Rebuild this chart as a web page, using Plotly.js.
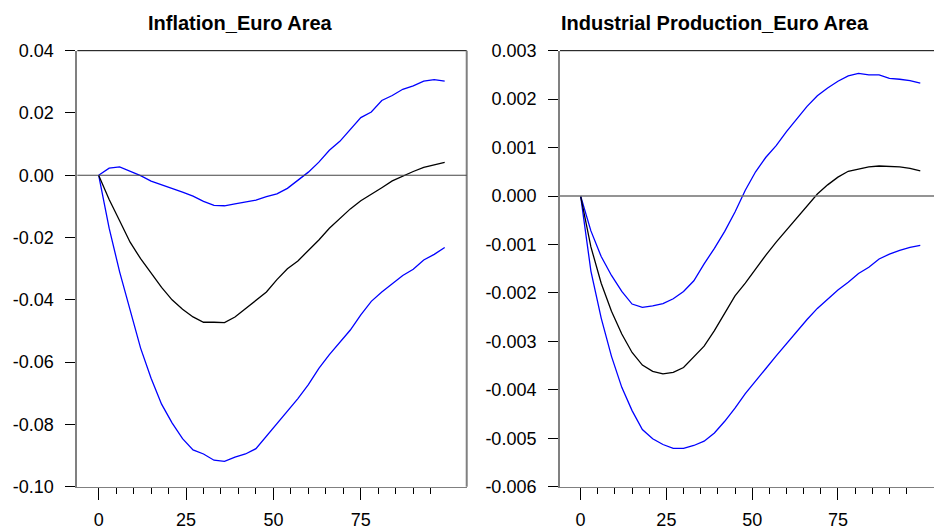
<!DOCTYPE html>
<html>
<head>
<meta charset="utf-8">
<script src="https://cdn.plot.ly/plotly-3.0.1.min.js"></script>
<style>html,body{margin:0;padding:0;background:#fff;}#chart{width:934px;height:529px;}</style>
</head>
<body>
<div id="chart"></div>
<script>
// Horizon (periods)
const periods = [0,3,6,9,12,15,18,21,24,27,30,33,36,39,42,45,48,51,54,57,60,63,66,69,72,75,78,81,84,87,90,93,96,99];

// Inflation_Euro Area
const inflUpper = [0,0.0023,0.0027,0.0013,-0.0001,-0.0019,-0.0030,-0.0041,-0.0054,-0.0067,-0.0084,-0.0097,-0.0098,-0.0092,-0.0087,-0.0080,-0.0069,-0.0060,-0.0042,-0.0015,0.0010,0.0042,0.0080,0.0109,0.0147,0.0185,0.0203,0.0240,0.0256,0.0276,0.0287,0.0302,0.0307,0.0302];
const inflMedian = [0,-0.0078,-0.0146,-0.0215,-0.0268,-0.0316,-0.0360,-0.0400,-0.0430,-0.0455,-0.0472,-0.0472,-0.0473,-0.0455,-0.0428,-0.0400,-0.0375,-0.0335,-0.0300,-0.0275,-0.0243,-0.0208,-0.0170,-0.0138,-0.0108,-0.0082,-0.0062,-0.0040,-0.0018,-0.0002,0.0012,0.0025,0.0034,0.0041];
const inflLower = [0,-0.0170,-0.0310,-0.0433,-0.0555,-0.0652,-0.0735,-0.0795,-0.0846,-0.0882,-0.0895,-0.0915,-0.0919,-0.0905,-0.0895,-0.0878,-0.0838,-0.0800,-0.0760,-0.0717,-0.0672,-0.0620,-0.0576,-0.0537,-0.0497,-0.0448,-0.0405,-0.0375,-0.0350,-0.0322,-0.0302,-0.0272,-0.0254,-0.0232];

// Industrial Production_Euro Area
const ipUpper = [0,-0.00072,-0.00125,-0.00164,-0.00197,-0.00223,-0.00230,-0.00227,-0.00222,-0.00212,-0.00197,-0.00175,-0.00140,-0.00108,-0.00073,-0.00033,0.00012,0.00050,0.00080,0.00104,0.00133,0.00160,0.00185,0.00207,0.00223,0.00237,0.00248,0.00253,0.00250,0.00250,0.00243,0.00241,0.00238,0.00233];
const ipMedian = [0,-0.00105,-0.00180,-0.00238,-0.00285,-0.00323,-0.00349,-0.00362,-0.00367,-0.00364,-0.00354,-0.00332,-0.00310,-0.00278,-0.00243,-0.00206,-0.00180,-0.00150,-0.00122,-0.00095,-0.00070,-0.00046,-0.00022,0.00004,0.00023,0.00039,0.00051,0.00056,0.00060,0.00062,0.00061,0.00060,0.00057,0.00052];
const ipLower = [0,-0.00155,-0.00252,-0.00331,-0.00395,-0.00443,-0.00482,-0.00501,-0.00513,-0.00521,-0.00521,-0.00515,-0.00506,-0.00489,-0.00465,-0.00438,-0.00408,-0.00381,-0.00356,-0.00330,-0.00305,-0.00278,-0.00255,-0.00232,-0.00213,-0.00194,-0.00178,-0.00160,-0.00147,-0.00130,-0.00120,-0.00112,-0.00106,-0.00102];

// Titles and ticks
const titles = ["Inflation_Euro Area", "Industrial Production_Euro Area"];
const xTickVals = [0,25,50,75];
const xTickText = ["0","25","50","75"];
const xMinorVals = [5,10,15,20,30,35,40,45,55,60,65,70,80,85,90,95];
const inflTickVals = [0.04,0.02,0,-0.02,-0.04,-0.06,-0.08,-0.10];
const inflTickText = ["0.04","0.02","0.00","-0.02","-0.04","-0.06","-0.08","-0.10"];
const ipTickVals = [0.003,0.002,0.001,0,-0.001,-0.002,-0.003,-0.004,-0.005,-0.006];
const ipTickText = ["0.003","0.002","0.001","0.000","-0.001","-0.002","-0.003","-0.004","-0.005","-0.006"];

const BLUE = "#0000ff";
const FONT = "Liberation Sans, Arial, sans-serif";

function tr(y, color, xa, ya){
  return {x: periods, y: y, type: "scatter", mode: "lines", xaxis: xa, yaxis: ya,
          line: {color: color, width: 1.3}, hoverinfo: "skip", showlegend: false};
}

const data = [
  tr(inflUpper, BLUE, "x", "y"), tr(inflLower, BLUE, "x", "y"), tr(inflMedian, "#000000", "x", "y"),
  tr(ipUpper, BLUE, "x2", "y2"), tr(ipLower, BLUE, "x2", "y2"), tr(ipMedian, "#000000", "x2", "y2")
];

function xax(domain, range){
  return {domain: domain, range: range, showgrid: false, zeroline: false, showline: true,
    linecolor: "#808080", linewidth: 1.5, ticks: "outside", ticklen: 12, tickwidth: 1, tickcolor: "#000",
    tickmode: "array", tickvals: xTickVals, ticktext: xTickText, ticklabelstandoff: 4,
    tickfont: {family: FONT, size: 18, color: "#000"},
    minor: {tickmode: "array", tickvals: xMinorVals, ticks: "outside", ticklen: 6, tickwidth: 1, tickcolor: "#000", showgrid: false},
    fixedrange: true};
}
function yax(domain, range, vals, text, anchor){
  return {domain: domain, range: range, anchor: anchor, showgrid: false, zeroline: false, showline: true,
    linecolor: "#808080", linewidth: 2, ticks: "outside", ticklen: 10, tickwidth: 1, tickcolor: "#000",
    tickmode: "array", tickvals: vals, ticktext: text, ticklabelstandoff: 8,
    tickfont: {family: FONT, size: 18, color: "#000"}, fixedrange: true};
}

const yDom = [0.0800, 0.9042];
const layout = {
  width: 934, height: 529, margin: {l: 0, r: 0, t: 0, b: 0},
  paper_bgcolor: "#fff", plot_bgcolor: "#fff", showlegend: false,
  xaxis: Object.assign(xax([0.0828, 0.4997], [-6.1, 105.3]), {anchor: "y"}),
  yaxis: yax(yDom, [-0.10, 0.04], inflTickVals, inflTickText, "x"),
  xaxis2: Object.assign(xax([0.5996, 1], [-6.0, 103.0]), {anchor: "y2"}),
  yaxis2: yax(yDom, [-0.006, 0.003], ipTickVals, ipTickText, "x2"),
  shapes: [
    {type: "line", xref: "x domain", yref: "y domain", x0: 0, x1: 1, y0: 1, y1: 1, line: {color: "#000", width: 1}},
    {type: "line", xref: "x domain", yref: "y domain", x0: 1, x1: 1, y0: 0, y1: 1, line: {color: "#808080", width: 2}},
    {type: "line", xref: "x domain", yref: "y", x0: 0, x1: 1, y0: 0, y1: 0, line: {color: "#444", width: 1.2}},
    {type: "line", xref: "x2 domain", yref: "y2 domain", x0: 0, x1: 1, y0: 1, y1: 1, line: {color: "#000", width: 1}},
    {type: "line", xref: "x2 domain", yref: "y2", x0: 0, x1: 1, y0: 0, y1: 0, line: {color: "#707070", width: 1.5}}
  ],
  annotations: [
    {text: "<b>" + titles[0] + "</b>", xref: "paper", yref: "paper", x: 0.2575, y: 0.9556,
     xanchor: "center", yanchor: "middle", showarrow: false, font: {family: FONT, size: 20, color: "#000"}},
    {text: "<b>" + titles[1] + "</b>", xref: "paper", yref: "paper", x: 0.7655, y: 0.9556,
     xanchor: "center", yanchor: "middle", showarrow: false, font: {family: FONT, size: 20, color: "#000"}}
  ]
};

Plotly.newPlot("chart", data, layout, {displayModeBar: false, staticPlot: true});
</script>
</body>
</html>
